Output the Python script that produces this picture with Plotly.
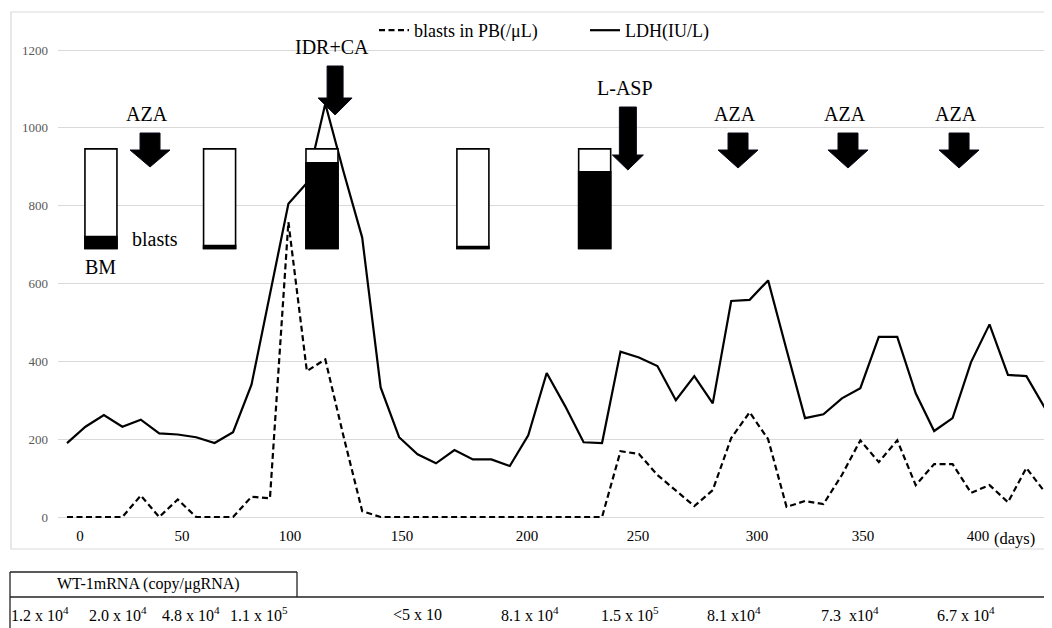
import plotly.graph_objects as go

# ---------------- data ----------------
ldh = [190, 232, 262, 232, 250, 215, 212, 205, 190, 218,
       340, 575, 805, 858, 1062, 885, 718, 333, 205, 161,
       138, 172, 148, 148, 131, 210, 370, 285, 192, 190,
       425, 410, 388, 300, 362, 292, 555, 558, 608, 430,
       254, 264, 305, 331, 463, 463, 318, 221, 254, 398,
       495, 365, 362, 280]
blasts_pb = [0, 0, 0, 0, 55, 0, 45, 0, 0, 0,
             52, 48, 758, 375, 405, 205, 15, 0, 0, 0,
             0, 0, 0, 0, 0, 0, 0, 0, 0, 0,
             169, 162, 108, 69, 28, 69, 203, 269, 200, 26,
             41, 33, 108, 197, 141, 197, 82, 136, 136, 62,
             82, 38, 126, 64]
sample_idx = list(range(len(ldh)))

tick_labels = ["0", "50", "100", "150", "200", "250", "300", "350", "400"]
tick_pos = [0.70, 6.23, 12.09, 18.16, 24.93, 30.95, 37.40, 43.14, 49.38]

bm_pos = [1.84, 8.27, 13.82, 22.0, 28.6]
bm_blast_frac = [0.12, 0.03, 0.86, 0.02, 0.77]

treat_labels = ["AZA", "IDR+CA", "L-ASP", "AZA", "AZA", "AZA"]
treat_pos = [4.5, 14.53, 30.4, 36.37, 42.33, 48.35]

wt1_labels = ["1.2 x 10<sup>4</sup>", "2.0 x 10<sup>4</sup>", "4.8 x 10<sup>4</sup>",
              "1.1 x 10<sup>5</sup>", "&lt;5 x 10", "8.1 x 10<sup>4</sup>",
              "1.5 x 10<sup>5</sup>", "8.1 x10<sup>4</sup>", "7.3  x10<sup>4</sup>",
              "6.7 x 10<sup>4</sup>"]
wt1_px = [40, 118, 191, 259, 417, 530, 630, 734, 850, 966]

# ---------------- geometry helpers ----------------
OFF = 8                      # page body margin of the html page
W, H = 1052 - OFF, 628 - OFF
ML, MR, MT, MB = 58 - OFF, 0, 42 - OFF, 628 - 525
PW, PH = W - ML - MR, H - MT - MB
PX_PER_IDX = 18.45
IDX0_PX = 67
PX_PER_VAL = 467 / 1200.0
Y0_PX = 517

x_range = [(ML + OFF - IDX0_PX) / PX_PER_IDX, (W + OFF - MR - IDX0_PX) / PX_PER_IDX]
y_range = [-(MT + OFF + PH - Y0_PX) / PX_PER_VAL, (Y0_PX - MT - OFF) / PX_PER_VAL]


def dxi(px):
    return px / PX_PER_IDX


def dyv(px):
    return px / PX_PER_VAL


def xp(px):
    return (px - OFF - ML) / PW


def yp(py):
    return (MT + PH - (py - OFF)) / PH


FONT = "Liberation Serif"

fig = go.Figure()

fig.add_trace(go.Scatter(
    x=sample_idx, y=blasts_pb, mode="lines", name="blasts in PB(/\u03bcL)",
    line=dict(color="black", width=2.2, dash="6px,3.5px")))
fig.add_trace(go.Scatter(
    x=sample_idx, y=ldh, mode="lines", name="LDH(IU/L)",
    line=dict(color="black", width=2.2)))

shapes = []
annotations = []

# BM bars (white box with black blasts portion)
bm_bottom, bm_top = 690, 946
bw = dxi(32)
for xc, frac in zip(bm_pos, bm_blast_frac):
    shapes.append(dict(type="rect", xref="x", yref="y", layer="above",
                       x0=xc - bw / 2, x1=xc + bw / 2, y0=bm_bottom, y1=bm_top,
                       fillcolor="white", line=dict(color="black", width=1.6)))
    shapes.append(dict(type="rect", xref="x", yref="y", layer="above",
                       x0=xc - bw / 2, x1=xc + bw / 2, y0=bm_bottom,
                       y1=bm_bottom + frac * (bm_top - bm_bottom),
                       fillcolor="black", line=dict(color="black", width=1.6)))

# treatment arrows
arrow_geom = [
    (986.7, 20, 17, 40, 17),
    (1158.9, 16, 32, 34, 17),
    (1053.5, 17, 48, 31, 15),
    (986.7, 20, 17, 40, 18),
    (986.7, 20, 17, 40, 18),
    (986.7, 20, 17, 40, 18),
]
for lab, xc, (top, sw, sh, hw, hh) in zip(treat_labels, treat_pos, arrow_geom):
    s = dxi(sw) / 2
    h = dxi(hw) / 2
    yb = top - dyv(sh)
    yt = yb - dyv(hh)
    path = (f"M {xc - s},{top} L {xc + s},{top} L {xc + s},{yb} L {xc + h},{yb} "
            f"L {xc},{yt} L {xc - h},{yb} L {xc - s},{yb} Z")
    shapes.append(dict(type="path", xref="x", yref="y", layer="above", path=path,
                       fillcolor="black", line=dict(color="#0a0a1a", width=1)))
    annotations.append(dict(x=xc - dxi(3), y=top + dyv(19), xref="x", yref="y",
                            text=lab, showarrow=False,
                            font=dict(family=FONT, size=20, color="black"),
                            xanchor="center", yanchor="middle"))

annotations.append(dict(x=(155 - IDX0_PX) / PX_PER_IDX, y=(Y0_PX - 239) / PX_PER_VAL,
                        xref="x", yref="y", text="blasts", showarrow=False,
                        xanchor="center", yanchor="middle",
                        font=dict(family=FONT, size=20, color="black")))
annotations.append(dict(x=(100 - IDX0_PX) / PX_PER_IDX, y=(Y0_PX - 267) / PX_PER_VAL,
                        xref="x", yref="y", text="BM", showarrow=False,
                        xanchor="center", yanchor="middle",
                        font=dict(family=FONT, size=20, color="black")))

# (days) label
annotations.append(dict(x=xp(1014), y=yp(538), xref="paper", yref="paper",
                        text="(days)", showarrow=False,
                        xanchor="center", yanchor="middle",
                        font=dict(family=FONT, size=16.5, color="black")))

# chart border
shapes.append(dict(type="rect", xref="paper", yref="paper",
                   x0=xp(11), x1=xp(1070), y0=yp(549), y1=yp(12),
                   line=dict(color="#d9d9d9", width=1.2), fillcolor="rgba(0,0,0,0)"))

# WT-1 table
tl = dict(color="#222222", width=1.3)
shapes += [
    dict(type="line", xref="paper", yref="paper", x0=xp(10), x1=xp(297), y0=yp(572), y1=yp(572), line=tl),
    dict(type="line", xref="paper", yref="paper", x0=xp(297), x1=xp(297), y0=yp(572), y1=yp(597), line=tl),
    dict(type="line", xref="paper", yref="paper", x0=xp(10), x1=xp(1060), y0=yp(597), y1=yp(597), line=tl),
    dict(type="line", xref="paper", yref="paper", x0=xp(10), x1=xp(10), y0=yp(572), y1=yp(640), line=tl),
]
annotations.append(dict(x=xp(148), y=yp(584), xref="paper", yref="paper",
                        text="WT-1mRNA (copy/\u03bcgRNA)", showarrow=False,
                        xanchor="center", yanchor="middle",
                        font=dict(family=FONT, size=16, color="black")))
for lab, px in zip(wt1_labels, wt1_px):
    annotations.append(dict(x=xp(px), y=yp(614), xref="paper", yref="paper",
                            text=lab, showarrow=False,
                            xanchor="center", yanchor="middle",
                            font=dict(family=FONT, size=16, color="black")))

fig.update_layout(
    width=W, height=H,
    margin=dict(l=ML, r=MR, t=MT, b=MB, pad=0),
    paper_bgcolor="white", plot_bgcolor="white",
    font=dict(family=FONT, color="black"),
    showlegend=True,
    legend=dict(orientation="h", x=xp(374), y=1.0 - 7.0 / PH, xanchor="left", yanchor="bottom",
                font=dict(family=FONT, size=18, color="black"),
                bgcolor="rgba(0,0,0,0)", entrywidth=166, entrywidthmode="pixels"),
    shapes=shapes, annotations=annotations,
    xaxis=dict(range=x_range, tickvals=tick_pos, ticktext=tick_labels,
               showgrid=False, zeroline=False, showline=False, ticks="",
               tickfont=dict(family=FONT, size=15, color="black")),
    yaxis=dict(range=y_range, tickvals=[0, 200, 400, 600, 800, 1000, 1200],
               showgrid=True, gridcolor="#d9d9d9", gridwidth=1,
               zeroline=False, showline=False, ticks="", ticklabelstandoff=9,
               tickfont=dict(family=FONT, size=13, color="#595959")),
)

fig.write_html("out.html")
